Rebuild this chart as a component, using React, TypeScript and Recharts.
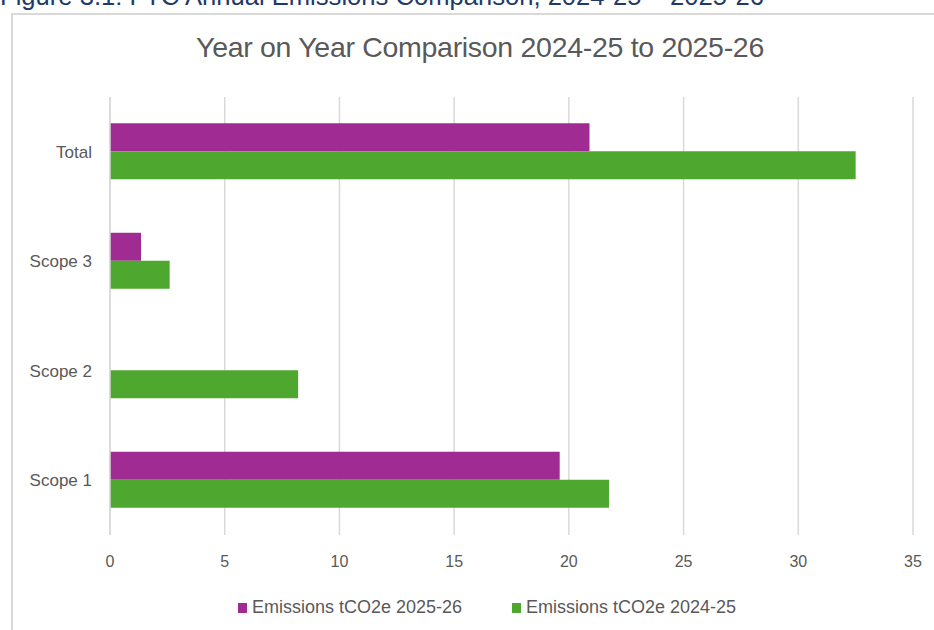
import React from 'react';
import { BarChart, Bar, XAxis, YAxis, CartesianGrid, Legend } from 'recharts';

const categories = ['Total', 'Scope 3', 'Scope 2', 'Scope 1'];
const emissions2526 = [20.9, 1.35, 0, 19.6];
const emissions2425 = [32.5, 2.6, 8.2, 21.75];
const xTicks = [0, 5, 10, 15, 20, 25, 30, 35];

const data = categories.map((name, i) => ({
  name,
  e1: emissions2526[i],
  e2: emissions2425[i],
}));

const FONT = '"Liberation Sans", Arial, sans-serif';
const GREY = '#595959';

// own legend content so the spacing matches the Excel one
const renderLegend = (props: any) => {
  const { payload } = props;
  return (
    <div style={{ display: 'flex', justifyContent: 'center', gap: 50, fontSize: 18, fontFamily: FONT, color: GREY, paddingLeft: 61 }}>
      {payload.map((p: any) => (
        <div key={p.value} style={{ display: 'flex', alignItems: 'center' }}>
          <span style={{ width: 9, height: 10, background: p.color, marginRight: 5, display: 'inline-block' }} />
          <span>{p.value}</span>
        </div>
      ))}
    </div>
  );
};

const App: React.FC = () => {
  return (
    <div style={{ position: 'absolute', left: 0, top: 0, width: 934, height: 630, overflow: 'hidden', background: '#fff', fontFamily: FONT }}>
      {/* caption, clipped at top like the screenshot */}
      <div style={{ position: 'absolute', left: 0, top: -16, fontSize: 25.6, lineHeight: '25px', color: '#1f3a68', whiteSpace: 'nowrap' }}>
        Figure 3.1: FTC Annual Emissions Comparison, 2024-25 – 2025-26
      </div>
      {/* chart frame */}
      <div style={{ position: 'absolute', left: 11, top: 13, width: 940, height: 640, border: '2px solid #d9d9d9', boxSizing: 'border-box' }} />
      <div style={{ position: 'absolute', left: 0, top: 31, width: 934, textAlign: 'center', paddingLeft: 26, boxSizing: 'border-box', fontSize: 28.5, color: GREY, letterSpacing: -0.3 }}>
        Year on Year Comparison 2024-25 to 2025-26
      </div>
      <div style={{ position: 'absolute', left: 0, top: 0 }}>
        <BarChart
          width={934}
          height={630}
          data={data}
          layout="vertical"
          margin={{ top: 97, right: 21, bottom: 12, left: 0 }}
          barCategoryGap="24%"
          barGap={0}
        >
          <CartesianGrid horizontal={false} stroke="#d9d9d9" strokeWidth={1.5} />
          <XAxis
            type="number"
            domain={[0, 35]}
            ticks={xTicks}
            height={62}
            axisLine={false}
            tickLine={false}
            tickMargin={15}
            tick={{ fontSize: 16, fill: GREY, fontFamily: FONT }}
          />
          <YAxis
            type="category"
            dataKey="name"
            width={110}
            axisLine={{ stroke: '#d9d9d9', strokeWidth: 1.5 }}
            tickLine={false}
            tickMargin={12}
            tick={{ fontSize: 17, fill: GREY, fontFamily: FONT }}
          />
          <Legend verticalAlign="bottom" itemSorter="dataKey" content={renderLegend} />
          <Bar dataKey="e1" name="Emissions tCO2e 2025-26" fill="#a02b93" isAnimationActive={false} />
          <Bar dataKey="e2" name="Emissions tCO2e 2024-25" fill="#4ea72e" isAnimationActive={false} />
        </BarChart>
      </div>
    </div>
  );
};

export default App;
